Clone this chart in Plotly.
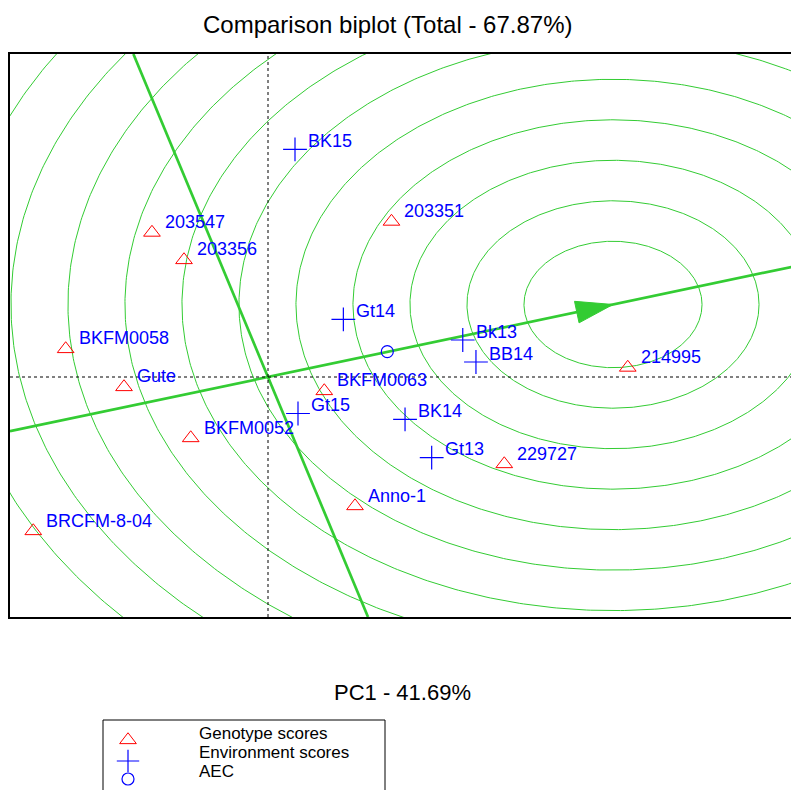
import numpy as np
import plotly.graph_objects as go

# page body has an 8px margin: figure pixel = window pixel - OFF
OFF = 8
W, H = 799 - OFF, 790 - OFF

# ---------------- data (PC1 / PC2 scores) ----------------
geno_names = ["203547", "203356", "203351", "BKFM0058", "Gute", "BKFM0052",
              "BRCFM-8-04", "BKFM0063", "Anno-1", "214995", "229727"]
geno_pc1 = [-0.967, -0.700, 1.029, -1.686, -1.200, -0.644, -1.956, 0.469, 0.725, 2.998, 1.969]
geno_pc2 = [1.695, 1.373, 1.824, 0.329, -0.117, -0.716, -1.807, -0.164, -1.514, 0.111, -1.021]

env_names = ["BK15", "Gt14", "Bk13", "BB14", "BK14", "Gt13", "Gt15"]
env_pc1 = [0.225, 0.628, 1.623, 1.733, 1.142, 1.364, 0.250]
env_pc2 = [2.672, 0.677, 0.434, 0.176, -0.496, -0.947, -0.428]

aec_pc1, aec_pc2 = 0.994, 0.297          # average environment coordinate
ideal_pc1, ideal_pc2 = 2.875, 0.851      # ideal genotype (arrow tip / ring centre)
ring_radii = [0.742, 1.217, 1.692, 2.167, 2.642, 3.117, 3.592, 4.067, 4.542, 5.017, 5.492]

x_range = [-2.15, 4.425]
y_range = [-2.816, 3.79]

title_text = "Comparison biplot (Total - 67.87%)"
xlabel_text = "PC1 - 41.69%"
legend_labels = ["Genotype scores", "Environment scores", "AEC"]

# ---------------- layout geometry (window pixels) ----------------
PL, PR, PT, PB = 10 - OFF, 799 - OFF, 54 - OFF, 617 - OFF
GREEN = "#33cc33"
BLUE = "#0000ff"
RED = "#ff0000"
FONT = "Arial, Liberation Sans, sans-serif"

sx = (PR - PL) / (x_range[1] - x_range[0])
sy = (PB - PT) / (y_range[1] - y_range[0])

fig = go.Figure()

# concentric rings around the ideal genotype
theta = np.linspace(0, 2 * np.pi, 721)
for r in ring_radii:
    fig.add_trace(go.Scatter(x=ideal_pc1 + r * np.cos(theta), y=ideal_pc2 + r * np.sin(theta),
                             mode="lines", line=dict(color=GREEN, width=1),
                             hoverinfo="skip", showlegend=False))

# AEC abscissa (through origin and ideal point) and ordinate (perpendicular)
slope = ideal_pc2 / ideal_pc1
fig.add_trace(go.Scatter(x=[x_range[0], x_range[1]], y=[slope * x_range[0], slope * x_range[1]],
                         mode="lines", line=dict(color=GREEN, width=2.7), showlegend=False))
fig.add_trace(go.Scatter(x=[-slope * y_range[0], -slope * y_range[1]], y=[y_range[0], y_range[1]],
                         mode="lines", line=dict(color=GREEN, width=2.7), showlegend=False))

# arrow head at the ideal point (built in pixel space, converted back)
ux, uy = ideal_pc1 * sx, ideal_pc2 * sy
n = np.hypot(ux, uy)
ux, uy = ux / n, uy / n
head_len, head_half = 37, 11
bx, by = -ux * head_len, -uy * head_len
pxs = [0, bx + (-uy) * head_half, bx - (-uy) * head_half, 0]
pys = [0, by + ux * head_half, by - ux * head_half, 0]
fig.add_trace(go.Scatter(x=[ideal_pc1 + p / sx for p in pxs], y=[ideal_pc2 + q / sy for q in pys],
                         mode="lines", fill="toself", fillcolor=GREEN,
                         line=dict(color=GREEN, width=1), showlegend=False))

# markers
fig.add_trace(go.Scatter(x=geno_pc1, y=geno_pc2, mode="markers",
                         marker=dict(symbol="triangle-up-open", size=14.5, color=RED,
                                     line=dict(color=RED, width=1)), showlegend=False))
fig.add_trace(go.Scatter(x=env_pc1, y=env_pc2, mode="markers",
                         marker=dict(symbol="cross-thin", size=17,
                                     line=dict(color=BLUE, width=1.2)), showlegend=False))
fig.add_trace(go.Scatter(x=[aec_pc1], y=[aec_pc2], mode="markers",
                         marker=dict(symbol="circle-open", size=12, color=BLUE,
                                     line=dict(color=BLUE, width=1.2)), showlegend=False))

annotations = []
for nm, x, y in zip(geno_names, geno_pc1, geno_pc2):
    annotations.append(dict(x=x, y=y, xref="x", yref="y", text=nm, showarrow=False,
                            xanchor="left", yanchor="middle", xshift=11, yshift=10.5,
                            font=dict(family=FONT, size=18, color=BLUE)))
for nm, x, y in zip(env_names, env_pc1, env_pc2):
    annotations.append(dict(x=x, y=y, xref="x", yref="y", text=nm, showarrow=False,
                            xanchor="left", yanchor="middle", xshift=11, yshift=8.5,
                            font=dict(family=FONT, size=18, color=BLUE)))

# title (as annotation, anchored at the top so it is not clipped)
annotations.append(dict(x=(387.5 - OFF) / W, y=1 - 1 / H, xref="paper", yref="paper",
                        text=title_text, showarrow=False, xanchor="center", yanchor="top",
                        font=dict(family=FONT, size=24, color="black")))

# x-axis label
annotations.append(dict(x=(402 - OFF) / W, y=1 - (692 - OFF) / H, xref="paper", yref="paper",
                        text=xlabel_text, showarrow=False, xanchor="center", yanchor="middle",
                        font=dict(family=FONT, size=22, color="black")))

# legend (manual box), positions in window pixels
leg_marker_x = 128
leg_text_x = 197
leg_marker_y = [740, 761, 779]
leg_text_y = [733, 752, 771]
leg_symbols = [dict(symbol="triangle-up-open", size=14.5, color=RED, line=dict(color=RED, width=1)),
               dict(symbol="cross-thin", size=16, line=dict(color=BLUE, width=1.2)),
               dict(symbol="circle-open", size=12, color=BLUE, line=dict(color=BLUE, width=1.2))]
for sym, my in zip(leg_symbols, leg_marker_y):
    fig.add_trace(go.Scatter(x=[leg_marker_x - OFF], y=[my - OFF], xaxis="x2", yaxis="y2",
                             mode="markers", marker=sym, showlegend=False))
for lab, ty in zip(legend_labels, leg_text_y):
    annotations.append(dict(x=leg_text_x - OFF, y=ty - OFF, xref="x2", yref="y2", text=lab,
                            showarrow=False, xanchor="left", yanchor="middle",
                            font=dict(family=FONT, size=17, color="black")))

shapes = [
    dict(type="line", xref="x", yref="y domain", x0=0, x1=0, y0=0, y1=1,
         line=dict(color="black", width=1, dash="dot")),
    dict(type="line", xref="x domain", yref="y", x0=0, x1=1, y0=0, y1=0,
         line=dict(color="black", width=1, dash="dot")),
    dict(type="rect", xref="paper", yref="paper", x0=(103 - OFF) / W, x1=(385 - OFF) / W,
         y0=-0.03, y1=1 - (720 - OFF) / H,
         line=dict(color="black", width=1), fillcolor="rgba(0,0,0,0)"),
]

fig.update_layout(
    width=W, height=H,
    margin=dict(l=0, r=0, t=0, b=0),
    paper_bgcolor="white", plot_bgcolor="rgba(0,0,0,0)",
    showlegend=False,
    xaxis=dict(domain=[PL / W, 1], range=x_range, showgrid=False, zeroline=False,
               showticklabels=False, ticks="", showline=True, linecolor="black",
               linewidth=2, mirror=True),
    yaxis=dict(domain=[1 - PB / H, 1 - PT / H], range=y_range, showgrid=False, zeroline=False,
               showticklabels=False, ticks="", showline=True, linecolor="black",
               linewidth=2.5, mirror=False),
    xaxis2=dict(domain=[0, 1], range=[0, W], visible=False, anchor="y2"),
    yaxis2=dict(domain=[0, 1], range=[H, 0], visible=False, anchor="x2"),
    annotations=annotations,
    shapes=shapes,
)

fig.write_html("out.html")
